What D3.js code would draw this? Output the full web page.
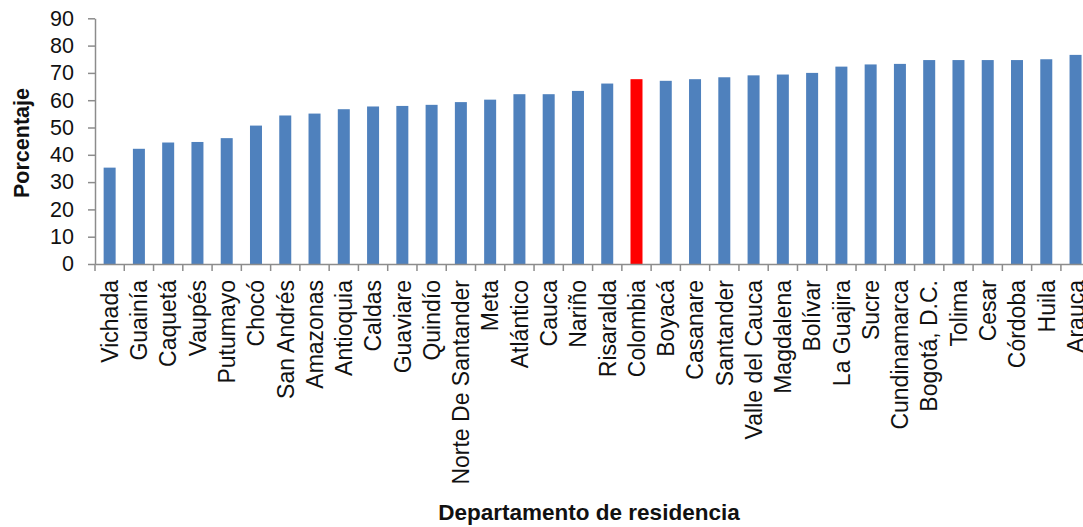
<!DOCTYPE html>
<html>
<head>
<meta charset="utf-8">
<script src="https://cdn.jsdelivr.net/npm/d3@7"></script>
<style>
  html, body { margin: 0; padding: 0; background: #fff; }
  svg { display: block; font-family: "Liberation Sans", Arial, sans-serif; }
</style>
</head>
<body>
<svg id="chart" width="1083" height="527"></svg>
<script>
// Departamentos ordenados por porcentaje
const departamentos = [
  "Vichada", "Guainía", "Caquetá", "Vaupés", "Putumayo", "Chocó", "San Andrés",
  "Amazonas", "Antioquia", "Caldas", "Guaviare", "Quindío", "Norte De Santander",
  "Meta", "Atlántico", "Cauca", "Nariño", "Risaralda", "Colombia", "Boyacá",
  "Casanare", "Santander", "Valle del Cauca", "Magdalena", "Bolívar", "La Guajira",
  "Sucre", "Cundinamarca", "Bogotá, D.C.", "Tolima", "Cesar", "Córdoba", "Huila", "Arauca"
];
const porcentajes = [
  35.3, 42.2, 44.5, 44.7, 46.1, 50.7, 54.4,
  55.1, 56.7, 57.7, 57.9, 58.3, 59.3,
  60.2, 62.2, 62.2, 63.4, 66.1, 67.7, 67.1,
  67.7, 68.4, 69.1, 69.4, 70.0, 72.3,
  73.1, 73.3, 74.7, 74.7, 74.7, 74.7, 75.0, 76.6
];
const yTicks = [0, 10, 20, 30, 40, 50, 60, 70, 80, 90];
const destacado = "Colombia";

const svg = d3.select("#chart");
const margenIzq = 95, baseY = 264, techoY = 18.3;
const paso = 29.27;

const x = d3.scaleBand()
  .domain(departamentos)
  .range([margenIzq, margenIzq + departamentos.length * paso])
  .paddingInner(0.59)
  .paddingOuter(0.295);

const y = d3.scaleLinear().domain([0, 90]).range([baseY, techoY]);

const axisColor = "#8c8c8c";
const textColor = "#111";

// Barras
svg.append("g")
  .selectAll("rect")
  .data(departamentos)
  .join("rect")
  .attr("x", d => x(d))
  .attr("width", x.bandwidth())
  .attr("y", (d, i) => y(porcentajes[i]))
  .attr("height", (d, i) => y(0) - y(porcentajes[i]))
  .attr("fill", d => d === destacado ? "#ff0000" : "#4f81bd");

// Eje Y
const yAxis = svg.append("g")
  .attr("transform", `translate(${margenIzq},0)`)
  .call(d3.axisLeft(y).tickValues(yTicks).tickSize(7).tickSizeOuter(0).tickPadding(14));
yAxis.select(".domain").attr("stroke", axisColor).attr("stroke-width", 1.5);
yAxis.selectAll(".tick line").attr("stroke", axisColor).attr("stroke-width", 1.5);
yAxis.selectAll(".tick text")
  .attr("font-size", 21.5)
  .attr("fill", textColor)
  .attr("font-family", "Liberation Sans, Arial, sans-serif");

// Eje X: línea base y marcas entre categorías
const xAxis = svg.append("g")
  .attr("transform", `translate(0,${baseY})`)
  .call(d3.axisBottom(x).tickSize(0).tickSizeOuter(0).tickPadding(0));
xAxis.select(".domain").attr("stroke", axisColor).attr("stroke-width", 1.5);

const bordes = departamentos.map(d => x(d) + x.bandwidth() / 2 - x.step() / 2);
xAxis.selectAll("line.borde")
  .data(bordes)
  .join("line")
  .attr("class", "borde")
  .attr("x1", d => d).attr("x2", d => d)
  .attr("y1", 0).attr("y2", 7)
  .attr("stroke", axisColor)
  .attr("stroke-width", 1.5);

xAxis.selectAll(".tick text")
  .attr("font-size", 23)
  .attr("fill", textColor)
  .attr("font-family", "Liberation Sans, Arial, sans-serif")
  .attr("text-anchor", "end")
  .attr("transform", "translate(0,16) rotate(-90)")
  .attr("x", 0)
  .attr("y", 0)
  .attr("dy", "0.36em");

// Títulos de ejes
svg.append("text")
  .attr("transform", "translate(29,143) rotate(-90)")
  .attr("text-anchor", "middle")
  .attr("font-size", 21.5)
  .attr("font-weight", "bold")
  .attr("fill", textColor)
  .text("Porcentaje");

svg.append("text")
  .attr("x", 589)
  .attr("y", 520)
  .attr("text-anchor", "middle")
  .attr("font-size", 22.5)
  .attr("font-weight", "bold")
  .attr("fill", textColor)
  .text("Departamento de residencia");
</script>
</body>
</html>
